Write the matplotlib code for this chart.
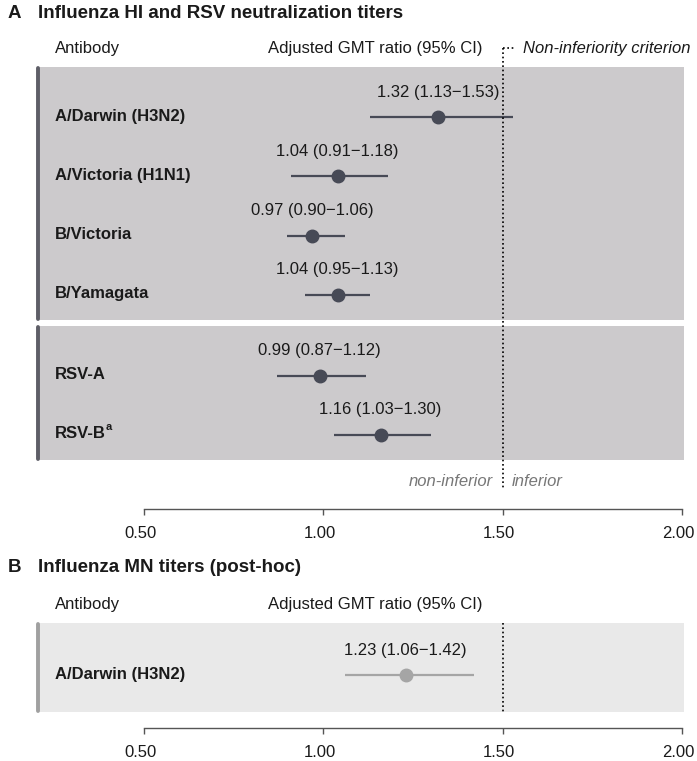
import matplotlib
matplotlib.use("Agg")
import matplotlib.pyplot as plt
from matplotlib.patches import Rectangle
from matplotlib.transforms import blended_transform_factory, ScaledTranslation

plt.rcParams['font.family'] = ['Liberation Sans', 'DejaVu Sans']

# ---------------- data ----------------
a_names = ["A/Darwin (H3N2)", "A/Victoria (H1N1)", "B/Victoria", "B/Yamagata", "RSV-A", "RSV-B"]
a_group = [0, 0, 0, 0, 1, 1]
a_mean = [1.32, 1.04, 0.97, 1.04, 0.99, 1.16]
a_lo = [1.13, 0.91, 0.90, 0.95, 0.87, 1.03]
a_hi = [1.53, 1.18, 1.06, 1.13, 1.12, 1.30]
a_footnote = ["", "", "", "", "", "a"]

b_names = ["A/Darwin (H3N2)"]
b_mean = [1.23]
b_lo = [1.06]
b_hi = [1.42]

xticks = [0.50, 1.00, 1.50, 2.00]
criterion = 1.50

# ---------------- layout (pixel units) ----------------
W, H = 697, 761
PX_PER_UNIT = 359.0
X0_PX = 143.7          # pixel of x=0.5
xmin = 0.5 - X0_PX / PX_PER_UNIT
xmax = 0.5 + (W - X0_PX) / PX_PER_UNIT

dark = "#474a56"
boxA = "#cccacc"
barA = "#5e5e67"
boxB = "#e9e9e9"
barB = "#a0a0a0"
ptB = "#a5a5a5"
txt = "#1a1a1a"

fig = plt.figure(figsize=(W / 100, H / 100), dpi=100)


def make_axes(top_px, bottom_px):
    ax = fig.add_axes([0, (H - bottom_px) / H, 1, (bottom_px - top_px) / H])
    ax.set_xlim(xmin, xmax)
    ax.set_ylim(bottom_px, top_px)
    ax.patch.set_alpha(0)
    for s in ["top", "right", "left"]:
        ax.spines[s].set_visible(False)
    ax.spines["bottom"].set_bounds(xticks[0], xticks[-1])
    ax.spines["bottom"].set_color("#555555")
    ax.spines["bottom"].set_linewidth(1.0)
    ax.set_xticks(xticks)
    ax.set_xticklabels([f"{t:.2f}" for t in xticks])
    ax.tick_params(axis="x", direction="out", length=4.5, width=1.0,
                   color="#555555", labelsize=12, labelcolor=txt, pad=8)
    off = ScaledTranslation(-3.5 / 100, 0, fig.dpi_scale_trans)
    for lab in ax.get_xticklabels():
        lab.set_transform(lab.get_transform() + off)
    ax.set_yticks([])
    tr = blended_transform_factory(ax.transAxes, ax.transData)
    return ax, tr


def fx(px):
    return px / W


def draw_row(ax, tr, name, m, lo, hi, y, col, foot=""):
    t = ax.text(fx(55), y - 1, name, transform=tr, fontsize=12, fontweight="bold",
                color=txt, ha="left", va="center")
    if foot:
        ax.annotate(foot, xy=(1.0, 0.62), xycoords=t, fontsize=8, color=txt,
                    ha="left", va="bottom", fontweight="bold")
    ax.hlines(y, lo, hi, color=col, lw=1.6, zorder=3)
    ax.plot([m], [y], "o", ms=9.0, color=col, zorder=4)
    ax.text(m, y - 25, f"{m:.2f} ({lo:.2f}\u2212{hi:.2f})", fontsize=12,
            color=txt, ha="center", va="center")


def draw_box(ax, tr, top, bottom, fc, bc):
    ax.add_patch(Rectangle((fx(38), top), fx(684) - fx(38), bottom - top,
                           transform=tr, facecolor=fc, edgecolor="none", zorder=0))
    ax.plot([fx(38), fx(38)], [top + 1, bottom - 1], transform=tr, color=bc, lw=2.8,
            solid_capstyle="round", zorder=2)


# ---------------- panel A ----------------
axA, trA = make_axes(0, 509)
fig.text(fx(8), 1 - 13 / H, "A", fontsize=13.5, fontweight="bold", color=txt, va="center")
fig.text(fx(38), 1 - 13 / H, "Influenza HI and RSV neutralization titers",
         fontsize=13.5, fontweight="bold", color=txt, va="center")
axA.text(fx(55), 48, "Antibody", transform=trA, fontsize=12, color=txt, va="center")
axA.text(fx(375), 48, "Adjusted GMT ratio (95% CI)", transform=trA, fontsize=12,
         color=txt, va="center", ha="center")

row_step = 59.3
group_gap = 21.5
first_y = 117
ys = [first_y + i * row_step + g * group_gap for i, g in enumerate(a_group)]

for g in sorted(set(a_group)):
    idx = [i for i, gg in enumerate(a_group) if gg == g]
    draw_box(axA, trA, ys[idx[0]] - 50, ys[idx[-1]] + 25, boxA, barA)

for i in range(len(a_names)):
    draw_row(axA, trA, a_names[i], a_mean[i], a_lo[i], a_hi[i], ys[i], dark, a_footnote[i])

# criterion line and legend
axA.plot([criterion, criterion], [48, 490], ls=(0, (1, 1.6)), color="black", lw=1.2, zorder=5)
axA.plot([criterion, criterion + 11 / PX_PER_UNIT], [48, 48], ls=(0, (1, 1.6)),
         color="black", lw=1.2, zorder=5)
axA.text(criterion + 20 / PX_PER_UNIT, 48, "Non-inferiority criterion", fontsize=12,
         style="italic", color=txt, va="center", ha="left")
axA.text(criterion - 10 / PX_PER_UNIT, 482, "non-inferior", fontsize=12, style="italic",
         color="#777777", va="center", ha="right")
axA.text(criterion + 9 / PX_PER_UNIT, 482, "inferior", fontsize=12, style="italic",
         color="#777777", va="center", ha="left")

# ---------------- panel B ----------------
axB, trB = make_axes(555, 728)
fig.text(fx(8), 1 - 567 / H, "B", fontsize=13.5, fontweight="bold", color=txt, va="center")
fig.text(fx(38), 1 - 567 / H, "Influenza MN titers (post-hoc)",
         fontsize=13.5, fontweight="bold", color=txt, va="center")
axB.text(fx(55), 604, "Antibody", transform=trB, fontsize=12, color=txt, va="center")
axB.text(fx(375), 604, "Adjusted GMT ratio (95% CI)", transform=trB, fontsize=12,
         color=txt, va="center", ha="center")

yb = [675 + i * row_step for i in range(len(b_names))]
draw_box(axB, trB, yb[0] - 52, yb[-1] + 37, boxB, barB)
for i in range(len(b_names)):
    draw_row(axB, trB, b_names[i], b_mean[i], b_lo[i], b_hi[i], yb[i], ptB)
axB.plot([criterion, criterion], [yb[0] - 52, yb[-1] + 37], ls=(0, (1, 1.6)),
         color="black", lw=1.2, zorder=5)

fig.savefig("out.png", dpi=100)
